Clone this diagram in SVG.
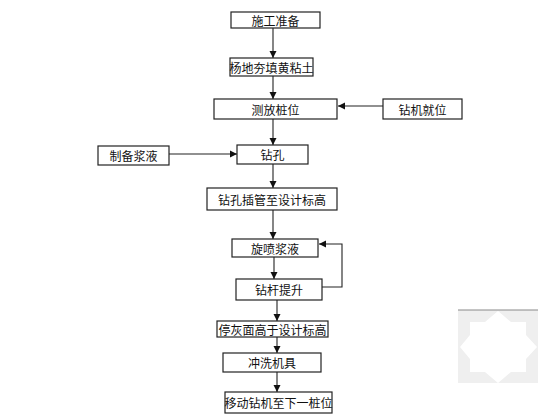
<svg xmlns="http://www.w3.org/2000/svg" width="560" height="420" viewBox="0 0 560 420">
<defs>
<marker id="ah" markerWidth="8" markerHeight="8" refX="7" refY="4" orient="auto" markerUnits="userSpaceOnUse">
<path d="M0,0.5 L7,4 L0,7.5 Z" fill="#111"/>
</marker>
<style>
.box{fill:#fff;stroke:#222;stroke-width:1.2}
.t{font-family:"Noto Sans CJK SC","Liberation Sans",sans-serif;font-size:12px;fill:#111;text-anchor:middle;dominant-baseline:central}
.c{fill:none;stroke:#222;stroke-width:1.1;marker-end:url(#ah)}
</style>
</defs>
<rect width="560" height="420" fill="#fff"/>
<g id="connectors">
<path class="c" d="M273,28 L273,58"/>
<path class="c" d="M273,76 L273,99"/>
<path class="c" d="M383,106 L338,106"/>
<path class="c" d="M273,119 L273,145"/>
<path class="c" d="M169,154 L237,154"/>
<path class="c" d="M273,164 L273,188"/>
<path class="c" d="M273,210 L273,239"/>
<path class="c" d="M274,257 L274,279"/>
<path class="c" d="M322,287 L342,287 L342,244 L319,244"/>
<path class="c" d="M277,300 L277,321"/>
<path class="c" d="M277,337 L277,353"/>
<path class="c" d="M277,372 L277,392"/>
</g>
<g id="n1"><rect class="box" x="231" y="12" width="89" height="16"/><text class="t" x="275.5" y="20">施工准备</text></g>
<g id="n2"><rect class="box" x="230" y="58" width="83" height="18"/><text class="t" x="271.5" y="67">杨地夯填黄粘土</text></g>
<g id="n3"><rect class="box" x="214" y="99" width="123" height="20"/><text class="t" x="275.5" y="109">测放桩位</text></g>
<g id="n4"><rect class="box" x="383" y="99" width="79" height="20"/><text class="t" x="422.5" y="109">钻机就位</text></g>
<g id="n5"><rect class="box" x="98" y="146" width="71" height="19"/><text class="t" x="133.5" y="155.5">制备浆液</text></g>
<g id="n6"><rect class="box" x="237" y="145" width="71" height="19"/><text class="t" x="272.5" y="154.5">钻孔</text></g>
<g id="n7"><rect class="box" x="207" y="188" width="130" height="22"/><text class="t" x="272" y="199">钻孔插管至设计标高</text></g>
<g id="n8"><rect class="box" x="232" y="239" width="86" height="18"/><text class="t" x="275" y="248">旋喷浆液</text></g>
<g id="n9"><rect class="box" x="236" y="279" width="86" height="21"/><text class="t" x="279" y="289.5">钻杆提升</text></g>
<g id="n10"><rect class="box" x="217" y="321" width="111" height="16"/><text class="t" x="272.5" y="329">停灰面高于设计标高</text></g>
<g id="n11"><rect class="box" x="223" y="353" width="98" height="19"/><text class="t" x="272" y="362.5">冲洗机具</text></g>
<g id="n12"><rect class="box" x="225" y="392" width="107" height="21"/><text class="t" x="278.5" y="402.5">移动钻机至下一桩位</text></g>
<g id="watermark">
<rect x="458" y="310" width="80" height="73" fill="#efefef"/>
<line x1="458" y1="310" x2="538" y2="310" stroke="#8a8a8a" stroke-width="1.2"/>
<polygon fill="#fff" points="498,311 511,322 526,322 526,335 537,347 526,359 526,372 511,372 498,383 485,372 470,372 470,359 460,347 470,335 470,322 485,322"/>
</g>
</svg>
